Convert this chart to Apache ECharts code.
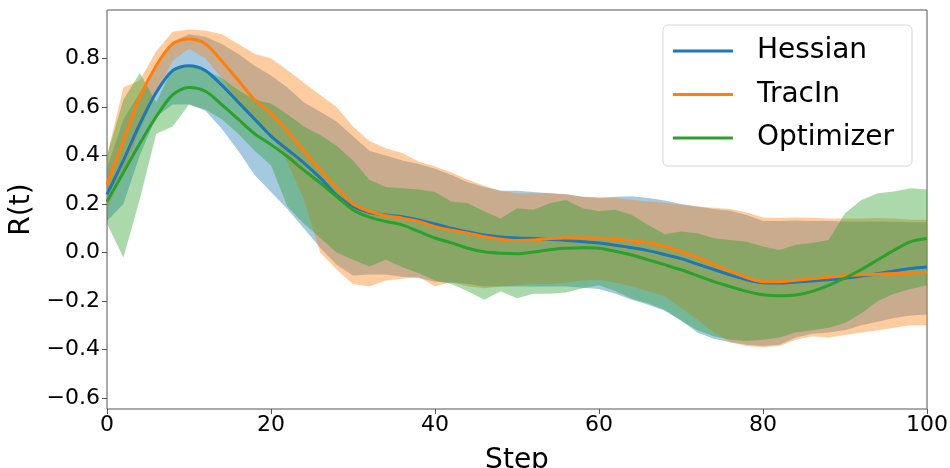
<!DOCTYPE html>
<html>
<head>
<meta charset="utf-8">
<script src="https://cdn.jsdelivr.net/npm/echarts@6/dist/echarts.min.js"></script>
<style>
  html, body { margin: 0; padding: 0; background: #fff; }
  #chart { width: 950px; height: 468px; }
</style>
</head>
<body>
<div id="chart"></div>
<script>
var steps = [];
for (var s = 0; s <= 100; s += 2) steps.push(s);

var yTicks = [-0.6, -0.4, -0.2, 0.0, 0.2, 0.4, 0.6, 0.8];

// Hessian
var hessianMean = [0.24, 0.38, 0.53, 0.66, 0.75, 0.77, 0.75, 0.69, 0.62, 0.55, 0.48, 0.425, 0.37, 0.308, 0.237, 0.19, 0.165, 0.155, 0.148, 0.134, 0.118,
  0.10, 0.085, 0.072, 0.064, 0.06, 0.058, 0.055, 0.05, 0.045, 0.039, 0.03, 0.02, 0.008, -0.008, -0.025, -0.048, -0.07, -0.092, -0.112, -0.125,
  -0.126, -0.121, -0.117, -0.112, -0.106, -0.097, -0.087, -0.076, -0.066, -0.06];
var hessianHi = [0.35, 0.55, 0.66, 0.76, 0.87, 0.90, 0.89, 0.86, 0.82, 0.77, 0.73, 0.68, 0.62, 0.58, 0.54, 0.48, 0.42, 0.40, 0.38, 0.365, 0.345,
  0.32, 0.29, 0.27, 0.255, 0.255, 0.25, 0.245, 0.24, 0.23, 0.225, 0.23, 0.232, 0.225, 0.215, 0.20, 0.19, 0.18, 0.172, 0.155, 0.13,
  0.13, 0.132, 0.13, 0.13, 0.128, 0.128, 0.128, 0.127, 0.125, 0.125];
var hessianLo = [0.13, 0.20, 0.40, 0.56, 0.61, 0.61, 0.585, 0.51, 0.42, 0.32, 0.25, 0.18, 0.10, 0.02, -0.05, -0.095, -0.09, -0.09, -0.10, -0.105, -0.12,
  -0.125, -0.13, -0.14, -0.14, -0.14, -0.14, -0.14, -0.14, -0.145, -0.15, -0.17, -0.195, -0.215, -0.24, -0.28, -0.33, -0.355, -0.37, -0.38, -0.385,
  -0.38, -0.35, -0.335, -0.33, -0.32, -0.30, -0.285, -0.27, -0.26, -0.255];

// TracIn
var tracinMean = [0.28, 0.46, 0.64, 0.77, 0.86, 0.88, 0.86, 0.79, 0.71, 0.63, 0.575, 0.50, 0.42, 0.34, 0.267, 0.20, 0.17, 0.152, 0.142, 0.128, 0.107,
  0.092, 0.08, 0.065, 0.055, 0.05, 0.052, 0.058, 0.06, 0.06, 0.059, 0.055, 0.048, 0.04, 0.025, 0.004, -0.02, -0.05, -0.078, -0.103, -0.12,
  -0.12, -0.114, -0.108, -0.102, -0.096, -0.092, -0.089, -0.086, -0.084, -0.082];
var tracinHi = [0.40, 0.68, 0.71, 0.83, 0.91, 0.92, 0.915, 0.90, 0.86, 0.82, 0.80, 0.753, 0.70, 0.65, 0.60, 0.52, 0.46, 0.43, 0.41, 0.375, 0.355,
  0.33, 0.30, 0.275, 0.255, 0.245, 0.245, 0.245, 0.24, 0.23, 0.228, 0.225, 0.218, 0.21, 0.205, 0.197, 0.19, 0.185, 0.18, 0.165, 0.145,
  0.142, 0.145, 0.143, 0.14, 0.14, 0.14, 0.142, 0.14, 0.135, 0.135];
var tracinLo = [0.18, 0.33, 0.50, 0.66, 0.79, 0.84, 0.80, 0.72, 0.62, 0.55, 0.49, 0.37, 0.22, 0.0, -0.07, -0.13, -0.14, -0.115, -0.108, -0.10, -0.14,
  -0.12, -0.14, -0.147, -0.14, -0.135, -0.13, -0.13, -0.125, -0.115, -0.113, -0.125, -0.14, -0.16, -0.18, -0.23, -0.277, -0.33, -0.37, -0.385, -0.39,
  -0.385, -0.36, -0.345, -0.35, -0.34, -0.33, -0.32, -0.31, -0.30, -0.30];

// Optimizer
var optimizerMean = [0.21, 0.33, 0.45, 0.56, 0.65, 0.68, 0.665, 0.61, 0.55, 0.49, 0.445, 0.396, 0.34, 0.287, 0.231, 0.176, 0.146, 0.128, 0.114, 0.087, 0.06,
  0.04, 0.018, 0.003, -0.003, -0.005, 0.002, 0.012, 0.018, 0.02, 0.018, 0.005, -0.01, -0.03, -0.05, -0.071, -0.095, -0.12, -0.14, -0.16, -0.174,
  -0.178, -0.175, -0.16, -0.135, -0.105, -0.07, -0.03, 0.01, 0.045, 0.058];
var optimizerHi = [0.40, 0.63, 0.74, 0.62, 0.76, 0.77, 0.75, 0.72, 0.67, 0.63, 0.615, 0.57, 0.52, 0.485, 0.44, 0.38, 0.30, 0.27, 0.265, 0.26, 0.25,
  0.21, 0.203, 0.17, 0.14, 0.183, 0.176, 0.203, 0.217, 0.183, 0.17, 0.176, 0.155, 0.114, 0.075, 0.087, 0.08, 0.059, 0.052, 0.045, 0.025,
  0.011, 0.032, 0.039, 0.052, 0.162, 0.217, 0.245, 0.252, 0.265, 0.26];
var optimizerLo = [0.12, -0.02, 0.22, 0.49, 0.52, 0.61, 0.59, 0.55, 0.49, 0.42, 0.36, 0.19, 0.12, 0.06, 0.0, -0.03, -0.058, -0.03, -0.06, -0.085, -0.115,
  -0.13, -0.16, -0.195, -0.16, -0.188, -0.17, -0.17, -0.165, -0.147, -0.135, -0.16, -0.19, -0.21, -0.236, -0.28, -0.32, -0.345, -0.36, -0.365, -0.36,
  -0.35, -0.33, -0.32, -0.31, -0.29, -0.25, -0.20, -0.17, -0.15, -0.135];

var FONT = 'DejaVu Sans';

function pairs(vals) {
  return steps.map(function (s, i) { return [s, vals[i]]; });
}

// shaded band between lo and hi, drawn as one polygon through the axis scales
function band(name, lo, hi, fill) {
  return {
    name: name + ' band', type: 'custom', silent: true, z: 1,
    data: steps.map(function (s, i) { return [s, lo[i], hi[i]]; }),
    encode: { x: 0, y: [1, 2] },
    renderItem: function (params, api) {
      if (params.dataIndex !== 0) return null;
      var pts = [];
      for (var i = 0; i < steps.length; i++) pts.push(api.coord([steps[i], hi[i]]));
      for (var j = steps.length - 1; j >= 0; j--) pts.push(api.coord([steps[j], lo[j]]));
      return {
        type: 'polygon',
        shape: { points: pts },
        style: { fill: fill },
        clipPath: {
          type: 'rect',
          shape: { x: params.coordSys.x, y: params.coordSys.y, width: params.coordSys.width, height: params.coordSys.height }
        }
      };
    }
  };
}

function meanLine(name, vals, color) {
  return {
    name: name, type: 'line', data: pairs(vals), symbol: 'none',
    smooth: 0.3, color: color,
    lineStyle: { color: color, width: 3 }, z: 5
  };
}

var series = [
  band('Hessian', hessianLo, hessianHi, 'rgba(31,119,180,0.4)'),
  band('TracIn', tracinLo, tracinHi, 'rgba(255,127,14,0.4)'),
  band('Optimizer', optimizerLo, optimizerHi, 'rgba(44,160,44,0.4)'),
  meanLine('Hessian', hessianMean, '#1f77b4'),
  meanLine('TracIn', tracinMean, '#ff7f0e'),
  meanLine('Optimizer', optimizerMean, '#2ca02c')
];

var chart = echarts.init(document.getElementById('chart'));
chart.setOption({
  animation: false,
  textStyle: { fontFamily: FONT },
  grid: {
    left: 107, right: 23, top: 10, bottom: 59,
    outerBoundsMode: 'none', containLabel: false,
    show: true, borderColor: '#555', borderWidth: 1, backgroundColor: 'transparent'
  },
  legend: {
    data: ['Hessian', 'TracIn', 'Optimizer'],
    orient: 'vertical', right: 38, top: 25,
    icon: 'rect', itemWidth: 60, itemHeight: 3, itemGap: 11.5,
    padding: [10, 18, 12, 10],
    borderColor: '#d6d6d6', borderWidth: 1, borderRadius: 5,
    backgroundColor: 'rgba(255,255,255,0.8)',
    textStyle: { fontFamily: FONT, fontSize: 28, color: '#000', lineHeight: 32, padding: [0, 0, 0, 19] }
  },
  xAxis: {
    type: 'value', min: 0, max: 100, interval: 20,
    name: 'Step', nameLocation: 'middle', nameGap: 38,
    nameTextStyle: { fontFamily: FONT, fontSize: 28, color: '#000' },
    axisLine: { show: false, onZero: false },
    axisTick: { show: true, length: 5, lineStyle: { color: '#555' } },
    axisLabel: { fontFamily: FONT, fontSize: 22, color: '#000', margin: 5 },
    splitLine: { show: false }
  },
  yAxis: {
    type: 'value', min: -0.645, max: 1.0,
    name: 'R(t)', nameLocation: 'middle', nameGap: 63,
    nameTextStyle: { fontFamily: FONT, fontSize: 28, color: '#000' },
    axisLine: { show: false, onZero: false },
    axisTick: { show: true, length: 5, customValues: yTicks, lineStyle: { color: '#555' } },
    axisLabel: {
      fontFamily: FONT, fontSize: 22, color: '#000', margin: 7, customValues: yTicks,
      formatter: function (v) { return v.toFixed(1).replace('-', '\u2212'); }
    },
    splitLine: { show: false }
  },
  series: series
});
</script>
</body>
</html>
